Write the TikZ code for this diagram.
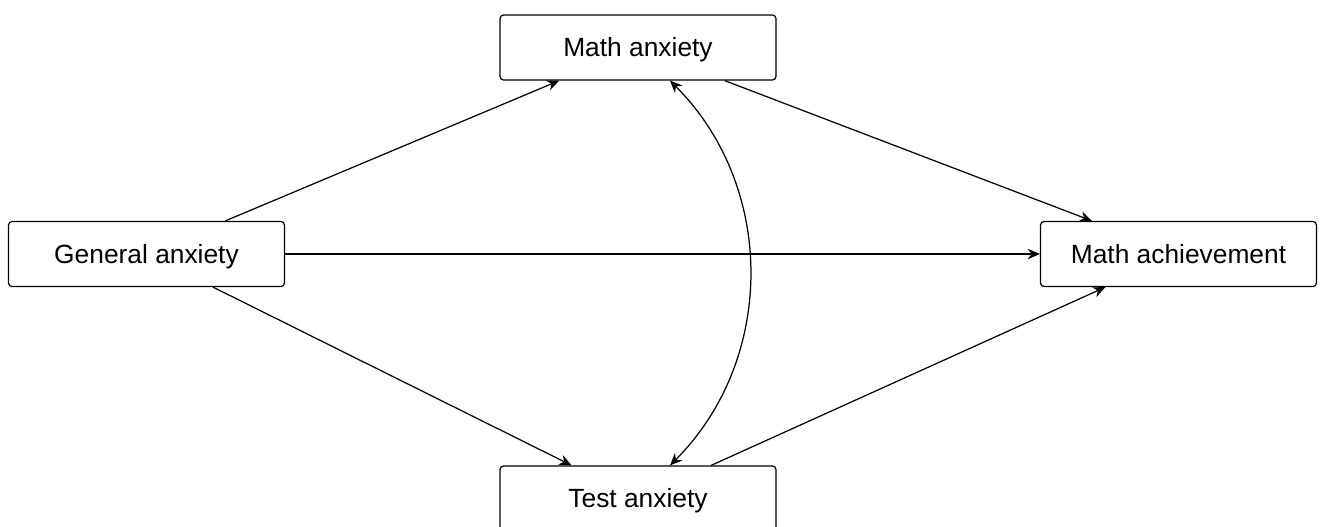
\documentclass[tikz,border=0pt]{standalone}
\usepackage{fontspec}
\setmainfont{Liberation Sans}
\usetikzlibrary{arrows.meta}

\begin{document}
\begin{tikzpicture}[x=0.02cm, y=-0.02cm,
  box/.style={draw, line width=0.7pt, rounded corners=2pt, minimum width=5.52cm,
    minimum height=1.3cm, inner sep=0pt, text height=10.7pt, text depth=0pt,
    font=\fontsize{15}{18}\selectfont},
  path/.style={line width=0.7pt, -{Stealth[length=7pt,width=6pt]}}]
  \useasboundingbox (0,0) rectangle (1320,527);
  \node[box] (mathanx) at (638,47.5)   {Math anxiety};
  \node[box] (genanx)  at (146.5,254)  {General anxiety};
  \node[box] (mathach) at (1178.5,254) {Math achievement};
  \node[box] (testanx) at (638,498.5)  {Test anxiety};
  \draw[path] (genanx) -- (mathanx);
  \draw[path] (genanx) -- (mathach);
  \draw[path] (genanx) -- (testanx);
  \draw[path] (mathanx) -- (mathach);
  \draw[path] (testanx) -- (mathach);
  \draw[path, {Stealth[length=7pt,width=6pt]}-{Stealth[length=7pt,width=6pt]}]
    ([xshift=0.64cm]mathanx.south) to[bend left=45] ([xshift=0.64cm]testanx.north);
\end{tikzpicture}
\end{document}
